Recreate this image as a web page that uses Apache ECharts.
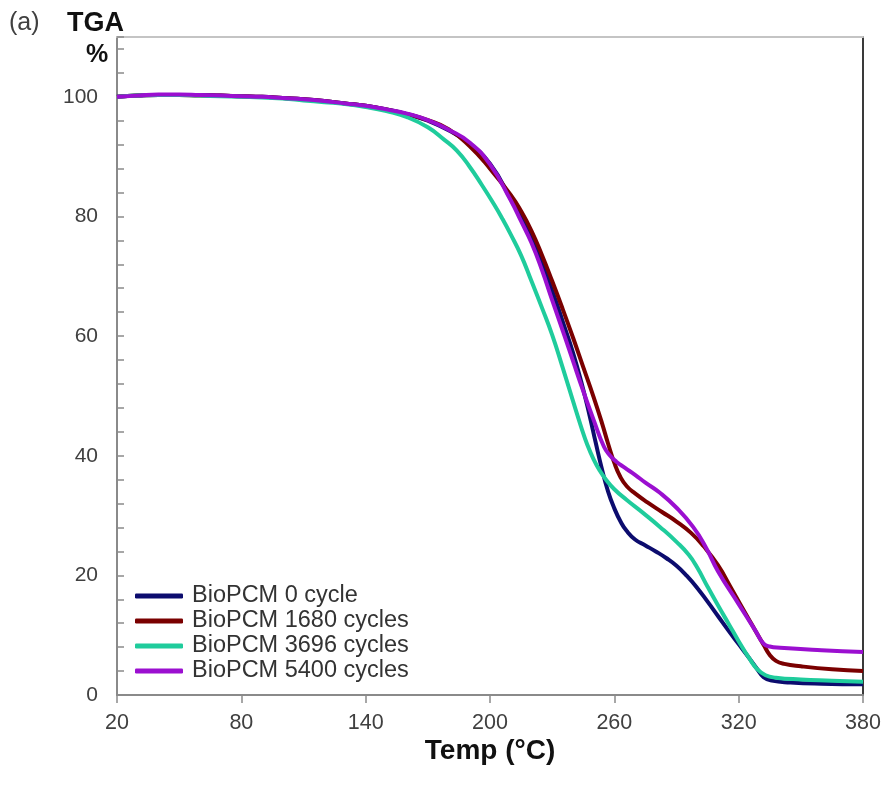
<!DOCTYPE html>
<html>
<head>
<meta charset="utf-8">
<script src="https://cdn.jsdelivr.net/npm/echarts@6/dist/echarts.min.js"></script>
<style>
html,body{margin:0;padding:0;background:#fff;}
#chart{width:888px;height:785px;}
</style>
</head>
<body>
<div id="chart"></div>
<script>
// ---- Data ----
const seriesNames = ['BioPCM 0 cycle', 'BioPCM 1680 cycles', 'BioPCM 3696 cycles', 'BioPCM 5400 cycles'];

const temp0 = [20,30,40,50,60,70,80,90,100,110,120,130,140,150,160,170,180,190,200,210,220,230,236,240,244,248,251,254,257,260,263,266,270,275,280,285,290,295,300,305,310,315,320,325,329,332,336,345,360,380];
const mass0 = [100.0,100.2,100.3,100.3,100.3,100.2,100.1,100.0,99.8,99.6,99.3,98.9,98.5,97.9,97.1,96.0,94.4,92.2,88.8,82.9,76.4,67.6,61.5,57.3,52.4,46.8,42.2,37.8,34.0,31.2,29.0,27.4,26.0,25.0,24.0,22.9,21.6,19.9,17.9,15.6,13.2,10.8,8.5,6.2,4.3,3.0,2.4,2.1,1.9,1.8];

const temp1680 = [20,30,40,50,60,70,80,90,100,110,120,130,140,150,160,170,180,190,200,210,215,220,225,230,235,240,245,250,254,257,260,263,266,270,276,283,290,297,303,310,316,322,328,332,335,338,342,350,365,380];
const mass1680 = [100.0,100.2,100.3,100.3,100.2,100.2,100.1,100.0,99.8,99.6,99.3,98.9,98.5,97.9,97.1,96.1,94.6,91.8,88.0,83.6,80.9,77.6,73.6,69.2,64.6,59.8,54.8,49.8,45.5,42.0,38.8,36.4,34.9,33.7,32.2,30.6,29.0,27.1,24.9,21.7,18.1,14.4,10.8,8.4,6.7,5.7,5.2,4.8,4.3,4.0];

const temp3696 = [20,30,40,50,60,70,80,90,100,110,120,130,140,150,160,170,178,184,190,196,202,206,210,215,220,225,230,235,240,244,247,250,253,256,260,266,274,282,290,296,300,305,310,315,320,325,329,333,338,350,365,380];
const mass3696 = [100.0,100.2,100.3,100.3,100.2,100.1,100.0,99.9,99.7,99.4,99.1,98.8,98.3,97.6,96.6,94.9,92.8,91.0,88.4,85.3,82.0,79.6,77.0,73.5,69.2,64.8,60.2,54.8,49.2,44.8,41.8,39.4,37.5,36.0,34.4,32.6,30.4,28.1,25.6,23.4,21.3,18.1,15.0,12.0,9.0,6.2,4.3,3.3,2.9,2.6,2.4,2.2];

const temp5400 = [20,30,40,50,60,70,80,90,100,110,120,130,140,150,160,170,180,190,200,210,215,220,225,230,236,240,245,250,255,258,261,265,270,275,282,290,298,304,310,320,328,332,335,340,360,380];
const mass5400 = [100.0,100.2,100.4,100.4,100.3,100.2,100.1,100.0,99.8,99.6,99.3,98.9,98.5,97.9,97.2,96.1,94.5,92.4,88.7,82.7,79.2,75.6,71.1,66.0,60.0,55.9,50.8,46.0,41.5,40.0,39.0,38.0,36.8,35.5,33.8,31.3,28.1,24.8,20.7,15.2,10.8,8.6,8.1,7.9,7.5,7.2];

const seriesColors = ['#0c0c6e', '#7a0000', '#1fcc9c', '#9b0fd0'];
const xTicks = { min: 20, max: 380, step: 60 };
const yTicks = { min: 0, max: 110, step: 20, labelMax: 100 };

function zip(t, v) { return t.map((x, i) => [x, v[i]]); }

const tempSets = [temp0, temp1680, temp3696, temp5400];
const massSets = [mass0, mass1680, mass3696, mass5400];

const chart = echarts.init(document.getElementById('chart'), null, { renderer: 'canvas' });
const FONT = '"Liberation Sans", Arial, sans-serif';

const option = {
  backgroundColor: '#ffffff',
  animation: false,
  grid: { left: 117, right: 25, top: 37, bottom: 90, containLabel: false },
  graphic: [
    { type: 'text', left: 9, top: 11, style: { text: '(a)', font: '25px ' + FONT, fill: '#404040' } },
    { type: 'text', left: 67, top: 10, style: { text: 'TGA', font: 'bold 27px ' + FONT, fill: '#111' } },
    { type: 'text', left: 86, top: 43, style: { text: '%', font: 'bold 25px ' + FONT, fill: '#111' } }
  ],
  legend: {
    data: seriesNames,
    orient: 'vertical',
    left: 130,
    top: 579,
    itemWidth: 48,
    itemHeight: 5,
    itemGap: 1,
    icon: 'roundRect',
    textStyle: { fontFamily: FONT, fontSize: 23.5, color: '#333', lineHeight: 21, padding: [0, 0, 0, 4] }
  },
  xAxis: [{
    type: 'value',
    min: xTicks.min, max: xTicks.max, interval: xTicks.step,
    name: 'Temp (°C)',
    nameLocation: 'middle',
    nameGap: 42,
    nameMoveOverlap: false,
    nameTextStyle: { fontFamily: FONT, fontSize: 28, fontWeight: 'bold', color: '#111', verticalAlign: 'top' },
    axisLine: { show: true, lineStyle: { color: '#8a8a8a', width: 2 } },
    axisTick: { show: true, inside: false, length: 8, lineStyle: { color: '#8a8a8a', width: 1.5 } },
    axisLabel: { fontFamily: FONT, fontSize: 21.5, color: '#404040', margin: 17 },
    splitLine: { show: false }
  }, {
    type: 'value', position: 'top',
    min: xTicks.min, max: xTicks.max,
    axisLine: { show: true, onZero: false, lineStyle: { color: '#c4c4c4', width: 2 } },
    axisTick: { show: false }, axisLabel: { show: false }, splitLine: { show: false }
  }],
  yAxis: [{
    type: 'value',
    min: yTicks.min, max: yTicks.max, interval: yTicks.step,
    axisLine: { show: true, lineStyle: { color: '#8a8a8a', width: 2 } },
    axisTick: { show: true, inside: true, length: 7, lineStyle: { color: '#8a8a8a', width: 1.5 } },
    minorTick: { show: true, splitNumber: 5, length: 7, lineStyle: { color: '#8a8a8a', width: 1.5 } },
    axisLabel: {
      fontFamily: FONT, fontSize: 21, color: '#404040', margin: 19,
      formatter: v => (v > yTicks.labelMax ? '' : String(v))
    },
    splitLine: { show: false }
  }, {
    type: 'value', position: 'right',
    min: yTicks.min, max: yTicks.max,
    axisLine: { show: true, onZero: false, lineStyle: { color: '#3a3a3a', width: 2 } },
    axisTick: { show: false }, axisLabel: { show: false }, splitLine: { show: false }
  }],
  series: seriesNames.map((name, i) => ({
    name: name,
    type: 'line',
    xAxisIndex: 0,
    yAxisIndex: 0,
    data: zip(tempSets[i], massSets[i]),
    smooth: 0.5,
    showSymbol: false,
    symbol: 'none',
    color: seriesColors[i],
    lineStyle: { width: 4, color: seriesColors[i] },
    z: 2 + i
  }))
};

chart.setOption(option);
</script>
</body>
</html>
